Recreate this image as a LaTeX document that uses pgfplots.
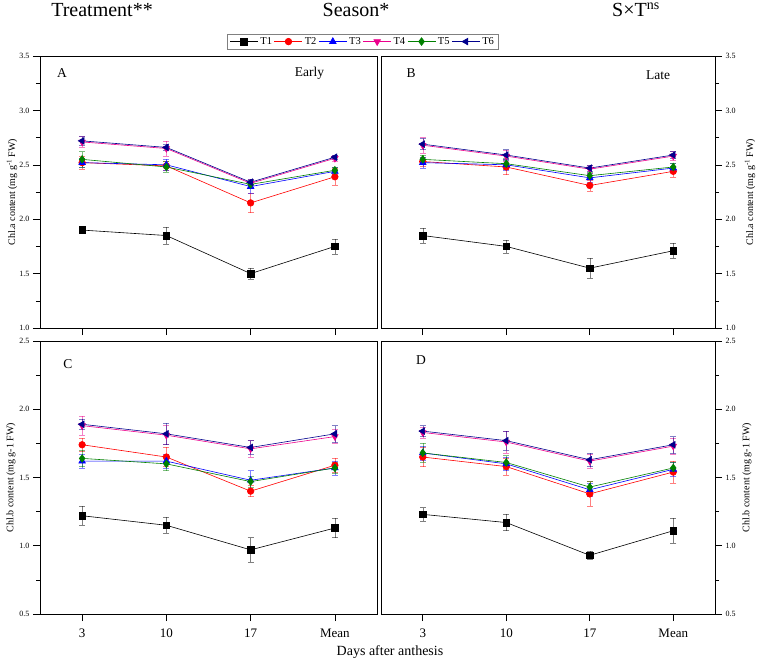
\documentclass[border=0pt]{standalone}
\usepackage{fontspec}
\setmainfont{Liberation Serif}
\usepackage{pgfplots}
\pgfplotsset{compat=1.18}
\usepackage{pgfplotstable}
\definecolor{cT5}{RGB}{0,128,0}
\definecolor{cT6}{RGB}{0,0,140}

\pgfplotstableread{
x T1 e1 T2 e2 T3 e3 T4 e4 T5 e5 T6 e6
0 1.90 0.03 2.52 0.06 2.52 0.04 2.71 0.05 2.55 0.07 2.72 0.04
1 1.85 0.08 2.49 0.04 2.50 0.05 2.65 0.07 2.48 0.05 2.66 0.03
2 1.50 0.05 2.15 0.09 2.30 0.06 2.33 0.04 2.32 0.04 2.34 0.03
3 1.75 0.07 2.39 0.08 2.44 0.04 2.56 0.03 2.45 0.03 2.57 0.02
}\tA
\pgfplotstableread{
x T1 e1 T2 e2 T3 e3 T4 e4 T5 e5 T6 e6
0 1.85 0.07 2.53 0.04 2.52 0.05 2.68 0.07 2.55 0.04 2.69 0.05
1 1.75 0.06 2.48 0.07 2.50 0.05 2.58 0.05 2.51 0.05 2.59 0.05
2 1.55 0.09 2.31 0.05 2.38 0.04 2.46 0.04 2.40 0.03 2.47 0.03
3 1.71 0.07 2.44 0.05 2.47 0.04 2.58 0.04 2.48 0.03 2.59 0.03
}\tB
\pgfplotstableread{
x T1 e1 T2 e2 T3 e3 T4 e4 T5 e5 T6 e6
0 1.22 0.07 1.74 0.05 1.62 0.05 1.88 0.07 1.64 0.06 1.89 0.04
1 1.15 0.06 1.65 0.07 1.62 0.05 1.81 0.07 1.60 0.05 1.82 0.08
2 0.97 0.09 1.40 0.04 1.48 0.07 1.71 0.06 1.47 0.04 1.72 0.05
3 1.13 0.07 1.59 0.05 1.57 0.05 1.80 0.05 1.57 0.04 1.82 0.06
}\tC
\pgfplotstableread{
x T1 e1 T2 e2 T3 e3 T4 e4 T5 e5 T6 e6
0 1.23 0.05 1.65 0.07 1.68 0.05 1.83 0.04 1.68 0.07 1.84 0.04
1 1.17 0.06 1.58 0.06 1.60 0.05 1.76 0.08 1.61 0.05 1.77 0.07
2 0.93 0.03 1.38 0.09 1.41 0.05 1.62 0.05 1.43 0.04 1.63 0.05
3 1.11 0.09 1.54 0.08 1.56 0.05 1.73 0.06 1.57 0.04 1.74 0.06
}\tD

\pgfplotsset{
  eb/.style={error bars/.cd, y dir=both, y explicit,
     error bar style={line width=0.5pt, opacity=0.5},
     error mark options={rotate=90, mark size=3pt, line width=0.5pt, opacity=0.5}},
  sT1/.style={black, line width=0.6pt, mark=square*, mark size=3.3pt, eb},
  sT2/.style={red, line width=0.6pt, mark=*, mark size=3.3pt, eb},
  sT3/.style={blue, line width=0.6pt, mark=triangle*, mark size=3.8pt, eb},
  sT4/.style={magenta, line width=0.6pt, mark=triangle*, mark size=3.8pt, mark options={rotate=180}, eb},
  sT5/.style={cT5, line width=0.6pt, mark=diamond*, mark size=3.8pt, eb},
  sT6/.style={cT6, line width=0.6pt, mark=triangle*, mark size=3.8pt, mark options={rotate=90}, eb},
  panel/.style={scale only axis, xmin=-0.5, xmax=3.5, xtick={0,1,2,3},
     tick align=outside, major tick length=7pt, minor tick length=4pt,
     minor y tick num=1, axis line style={line width=0.8pt},
     every tick/.style={black, line width=0.6pt},
     /pgf/number format/assume math mode=true,
     /pgf/number format/.cd, fixed, fixed zerofill, precision=1, /pgfplots/.cd,
     yticklabel style={font=\fontsize{8}{9}\selectfont},
     xticklabel style={font=\fontsize{13}{14}\selectfont, yshift=-4pt},
     ylabel style={font=\fontsize{10}{12}\selectfont, anchor=center},
     clip=false},
}
\newcommand{\allseries}[1]{%
  \addplot[sT1] table[x=x, y=T1, y error=e1]{#1};
  \addplot[sT2] table[x=x, y=T2, y error=e2]{#1};
  \addplot[sT3] table[x=x, y=T3, y error=e3]{#1};
  \addplot[sT4] table[x=x, y=T4, y error=e4]{#1};
  \addplot[sT5] table[x=x, y=T5, y error=e5]{#1};
  \addplot[sT6] table[x=x, y=T6, y error=e6]{#1};
}

\begin{document}
\begin{tikzpicture}[x=1pt, y=1pt]
\useasboundingbox (0,0) rectangle (769,-662);

\node[font=\fontsize{20}{24}\selectfont] at (102,-10) {Treatment**};
\node[font=\fontsize{20}{24}\selectfont] at (356,-10) {Season*};
\node[font=\fontsize{20}{24}\selectfont] at (636,-10) {S×T\textsuperscript{ns}};

% A
\begin{axis}[panel, at={(40pt,-56pt)}, anchor=north west, width=337pt, height=272pt,
  ymin=1, ymax=3.5, ytick={1,1.5,...,3.5}, xticklabels={},
  xtick pos=left, ytick pos=left,
  ylabel={Chl.a content (mg g\textsuperscript{-1} FW)},
  ylabel style={at={(axis description cs:-0.083,0.5)}},
  legend columns=6,
  legend style={at={(axis description cs:0.958,1.053)}, anchor=center,
     draw=gray, line width=0.6pt, font=\fontsize{10.5}{12}\selectfont,
     inner xsep=2.5pt, inner ysep=1pt,
     /tikz/every odd column/.append style={column sep=0pt},
     /tikz/every even column/.append style={column sep=0pt}},
  legend image code/.code={\draw[mark repeat=2, mark phase=2, line width=0.7pt]
     plot coordinates {(0pt,0pt) (14pt,0pt) (28pt,0pt)};},
  ]
\allseries{\tA}
\legend{T1,T2,T3,T4,T5,T6}
\node[font=\fontsize{13.5}{15}\selectfont] at (axis description cs:0.065,0.936) {A};
\node[font=\fontsize{13.5}{15}\selectfont] at (axis description cs:0.800,0.936) {Early};
\end{axis}

% B
\begin{axis}[panel, at={(381pt,-56pt)}, anchor=north west, width=334pt, height=272pt,
  ymin=1, ymax=3.5, ytick={1,1.5,...,3.5}, xticklabels={},
  xtick pos=left, ytick pos=right, yticklabel pos=right,
  ylabel={Chl.a content (mg g\textsuperscript{-1} FW)},
  ylabel style={at={(axis description cs:1.105,0.5)}},
  ]
\allseries{\tB}
\node[font=\fontsize{13.5}{15}\selectfont] at (axis description cs:0.09,0.936) {B};
\node[font=\fontsize{13.5}{15}\selectfont] at (axis description cs:0.83,0.93) {Late};
\end{axis}

% C
\begin{axis}[panel, at={(40pt,-341pt)}, anchor=north west, width=337pt, height=273pt,
  ymin=0.5, ymax=2.5, ytick={0.5,1,...,2.5}, xticklabels={3,10,17,Mean},
  xtick pos=left, ytick pos=left,
  ylabel={Chl.b content (mg g-1 FW)},
  ylabel style={at={(axis description cs:-0.086,0.5)}},
  ]
\allseries{\tC}
\node[font=\fontsize{13.5}{15}\selectfont] at (axis description cs:0.083,0.917) {C};
\end{axis}

% D
\begin{axis}[panel, at={(381pt,-341pt)}, anchor=north west, width=334pt, height=273pt,
  ymin=0.5, ymax=2.5, ytick={0.5,1,...,2.5}, xticklabels={3,10,17,Mean},
  xtick pos=left, ytick pos=right, yticklabel pos=right,
  ylabel={Chl.b content (mg g-1 FW)},
  ylabel style={at={(axis description cs:1.096,0.5)}},
  ]
\allseries{\tD}
\node[font=\fontsize{13.5}{15}\selectfont] at (axis description cs:0.12,0.93) {D};
\end{axis}

\node[font=\fontsize{14}{16}\selectfont] at (390,-652) {Days after anthesis};
\end{tikzpicture}
\end{document}
